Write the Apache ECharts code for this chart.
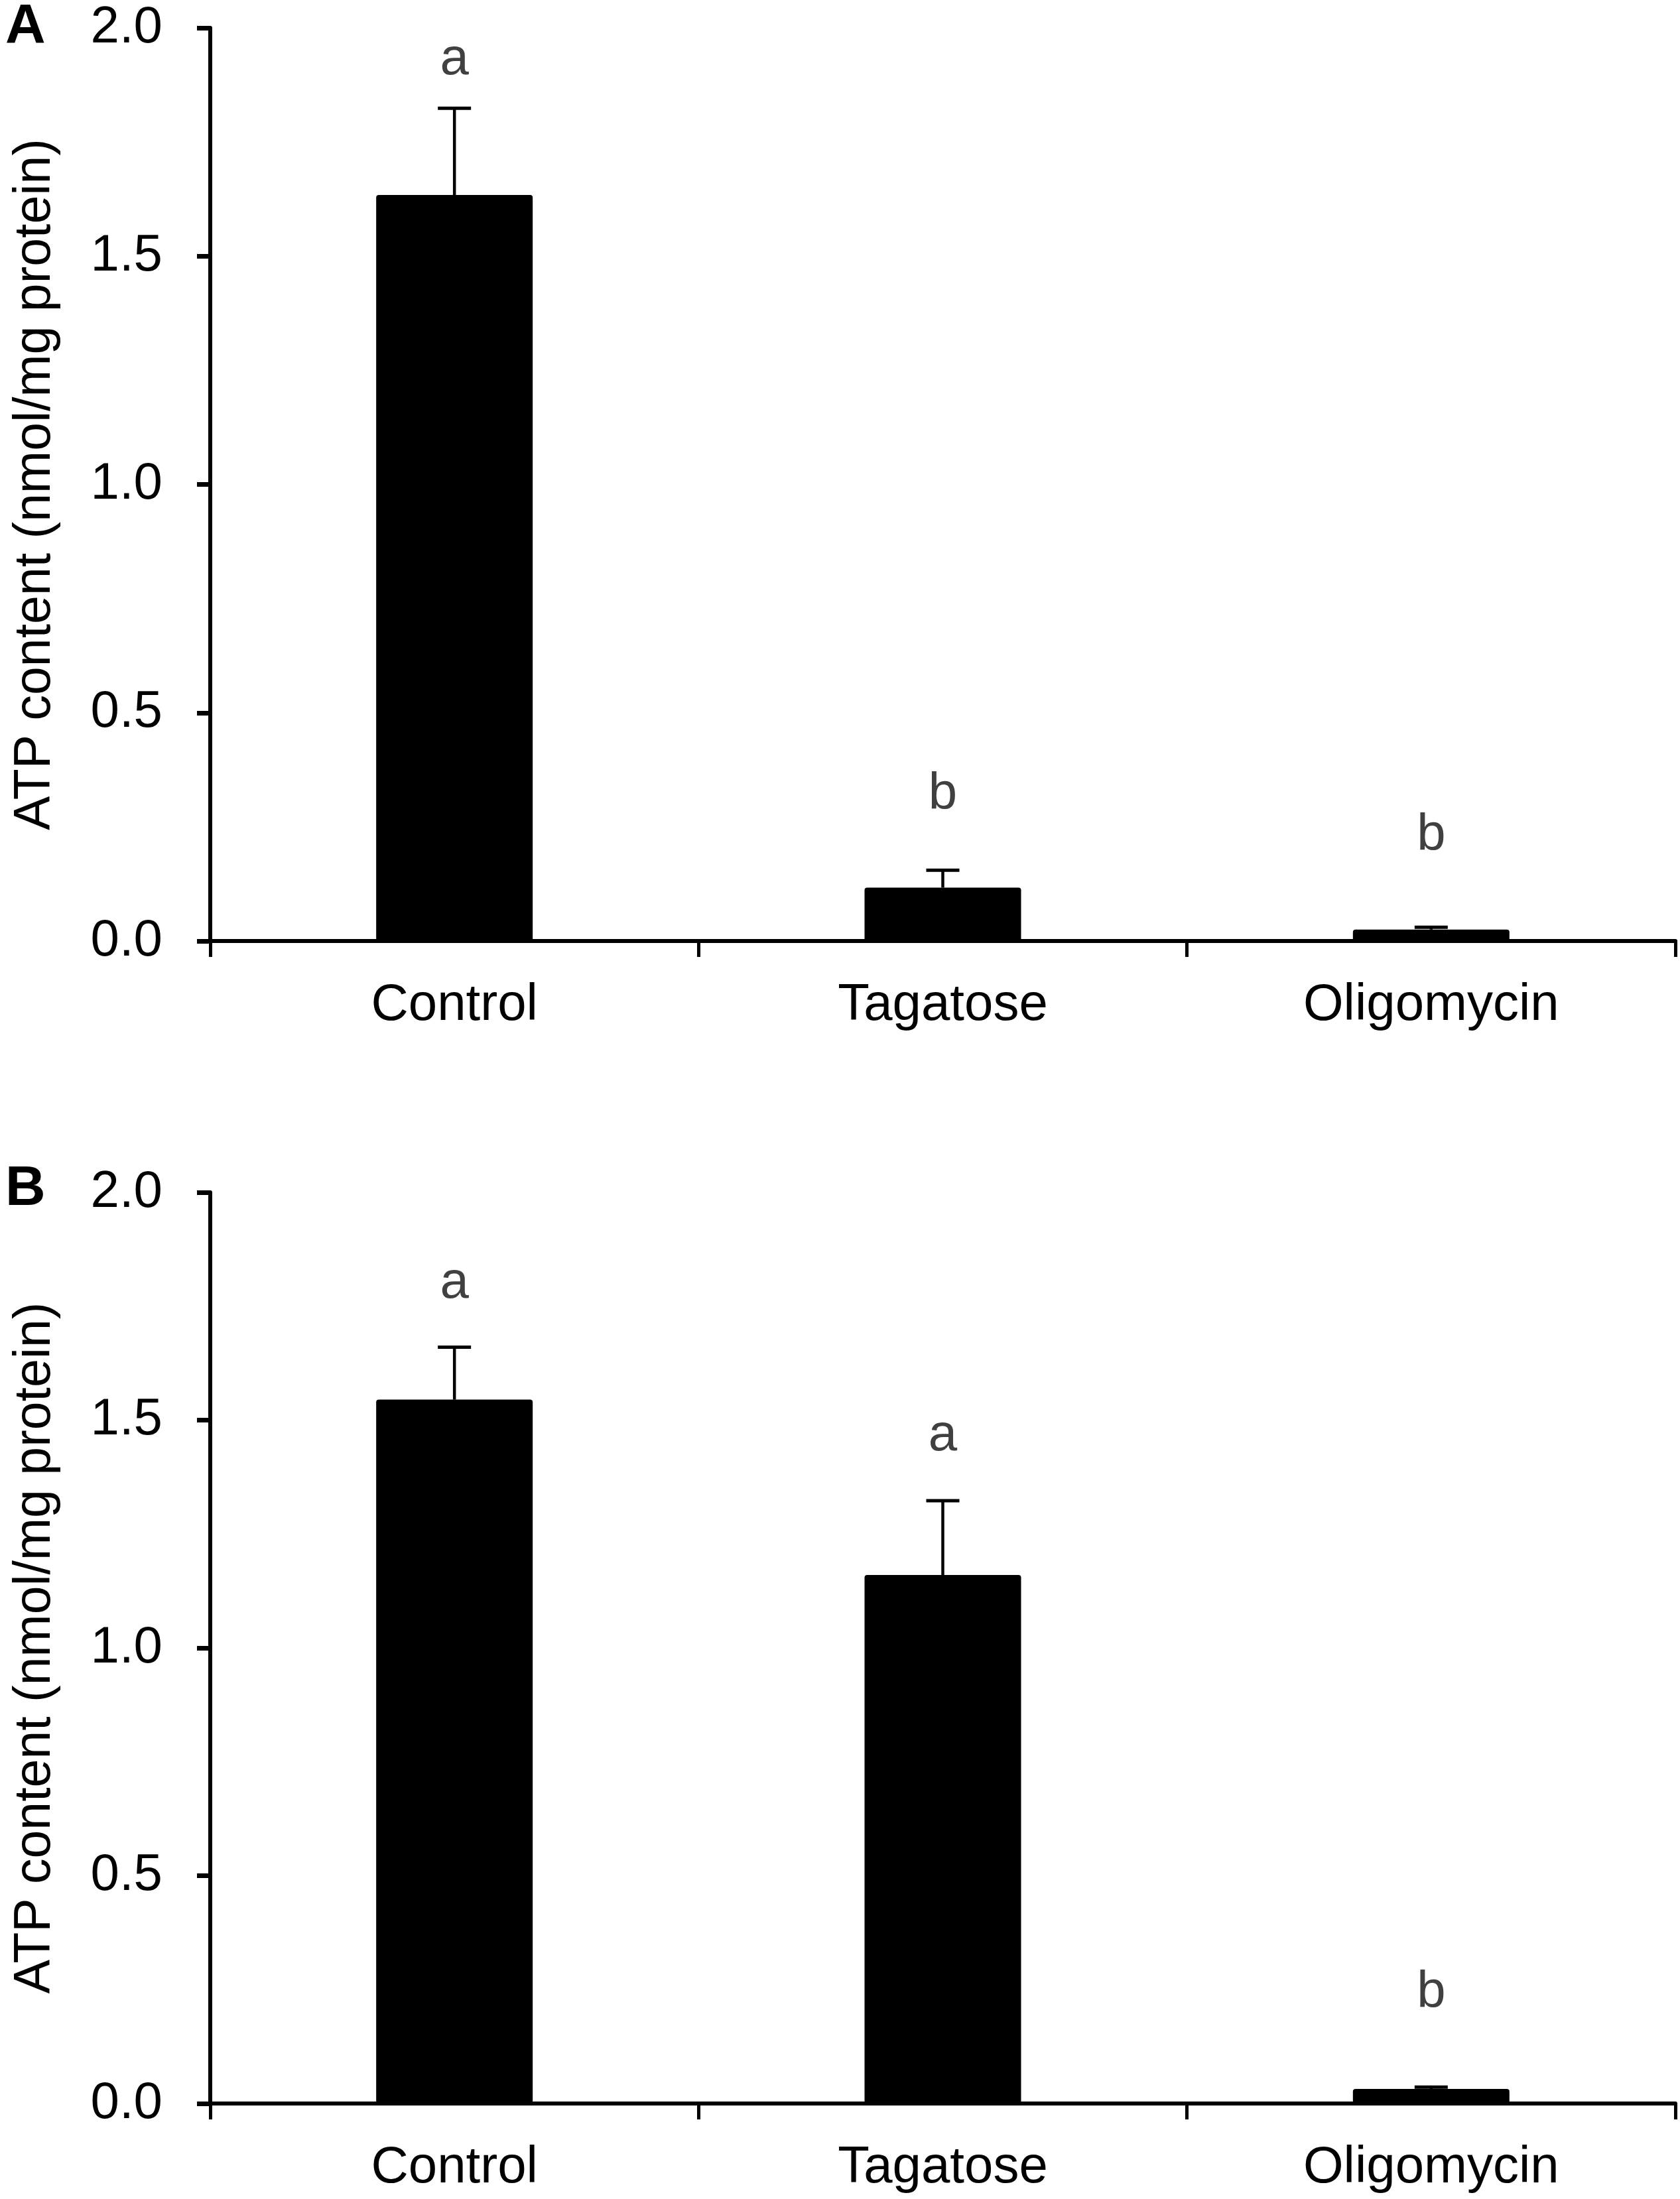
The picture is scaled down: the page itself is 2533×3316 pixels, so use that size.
<!DOCTYPE html>
<html>
<head>
<meta charset="utf-8">
<script src="https://cdn.jsdelivr.net/npm/echarts@6/dist/echarts.min.js"></script>
<style>
  html, body { margin: 0; padding: 0; background: #fff; }
  #chart { width: 2533px; height: 3316px; }
</style>
</head>
<body>
<div id="chart"></div>
<script>
// values (nmol/mg protein)
const categories = ['Control', 'Tagatose', 'Oligomycin'];
const yTicks = [0, 0.5, 1.0, 1.5, 2.0];

const meanA = [1.634, 0.117, 0.025];
const semA = [0.19, 0.038, 0.005];
const lettersA = ['a', 'b', 'b'];
const letterYA = [1.93, 0.32, 0.23];

const meanB = [1.545, 1.16, 0.032];
const semB = [0.115, 0.163, 0.004];
const lettersB = ['a', 'a', 'b'];
const letterYB = [1.80, 1.465, 0.243];

const FONT = '"Liberation Sans", Arial, sans-serif';
const FS = 78;

let chart = echarts.init(document.getElementById('chart'), null, { renderer: 'canvas', devicePixelRatio: 1 });

function xAxisCfg(gi) {
  return {
    type: 'category', gridIndex: gi, data: categories,
    axisLine: { lineStyle: { color: '#000', width: 6 } },
    axisTick: { show: true, length: 24, inside: false, lineStyle: { color: '#000', width: 5 } },
    axisLabel: { color: '#000', fontSize: FS, fontFamily: FONT, margin: 58 }
  };
}

function yAxisCfg(gi) {
  return {
    type: 'value', gridIndex: gi, min: 0, max: 2, interval: 0.5,
    name: 'ATP content (nmol/mg protein)', nameLocation: 'middle', nameGap: 225,
    nameTextStyle: { color: '#000', fontSize: 77, fontFamily: FONT },
    splitLine: { show: false },
    axisLine: { show: true, lineStyle: { color: '#000', width: 6 } },
    axisTick: { show: true, length: 20, lineStyle: { color: '#000', width: 7 } },
    axisLabel: {
      color: '#000', fontSize: FS, fontFamily: FONT, margin: 72,
      formatter: v => yTicks.indexOf(v) >= 0 ? v.toFixed(1) : ''
    }
  };
}

function barSeries(gi, vals) {
  return {
    type: 'bar', xAxisIndex: gi, yAxisIndex: gi, data: vals, barWidth: 236,
    itemStyle: { color: '#000', borderRadius: 4 }, z: 2, silent: true
  };
}

function errSeries(gi, vals, sem) {
  return {
    type: 'custom', xAxisIndex: gi, yAxisIndex: gi, z: 3, silent: true,
    data: vals.map((v, i) => [i, v, v + sem[i]]),
    renderItem: (params, api) => {
      let lo = api.coord([api.value(0), api.value(1)]);
      let hi = api.coord([api.value(0), api.value(2)]);
      let half = 25;
      return {
        type: 'group',
        children: [
          { type: 'line', shape: { x1: lo[0], y1: lo[1], x2: hi[0], y2: hi[1] }, style: { stroke: '#000', lineWidth: 4.5 } },
          { type: 'line', shape: { x1: hi[0] - half, y1: hi[1], x2: hi[0] + half, y2: hi[1] }, style: { stroke: '#000', lineWidth: 5 } }
        ]
      };
    }
  };
}

function letterSeries(gi, letters, ys) {
  return {
    type: 'custom', xAxisIndex: gi, yAxisIndex: gi, z: 4, silent: true,
    data: ys.map((y, i) => [i, y]),
    renderItem: (params, api) => {
      let p = api.coord([api.value(0), api.value(1)]);
      return {
        type: 'text', x: p[0], y: p[1],
        style: {
          text: letters[params.dataIndex], fill: '#404040', fontSize: FS, fontFamily: FONT,
          textAlign: 'center', textVerticalAlign: 'middle'
        }
      };
    }
  };
}

let option = {
  backgroundColor: '#fff',
  animation: false,
  grid: [
    { left: 317, top: 42, width: 2209, height: 1377 },
    { left: 317, top: 1798, width: 2209, height: 1374 }
  ],
  xAxis: [xAxisCfg(0), xAxisCfg(1)],
  yAxis: [yAxisCfg(0), yAxisCfg(1)],
  graphic: [
    { type: 'text', left: 8, top: 0, style: { text: 'A', fontSize: 84, fontWeight: 'bold', fontFamily: FONT, fill: '#000' } },
    { type: 'text', left: 8, top: 1752, style: { text: 'B', fontSize: 84, fontWeight: 'bold', fontFamily: FONT, fill: '#000' } }
  ],
  series: [
    barSeries(0, meanA), errSeries(0, meanA, semA), letterSeries(0, lettersA, letterYA),
    barSeries(1, meanB), errSeries(1, meanB, semB), letterSeries(1, lettersB, letterYB)
  ]
};

chart.setOption(option);
</script>
</body>
</html>
